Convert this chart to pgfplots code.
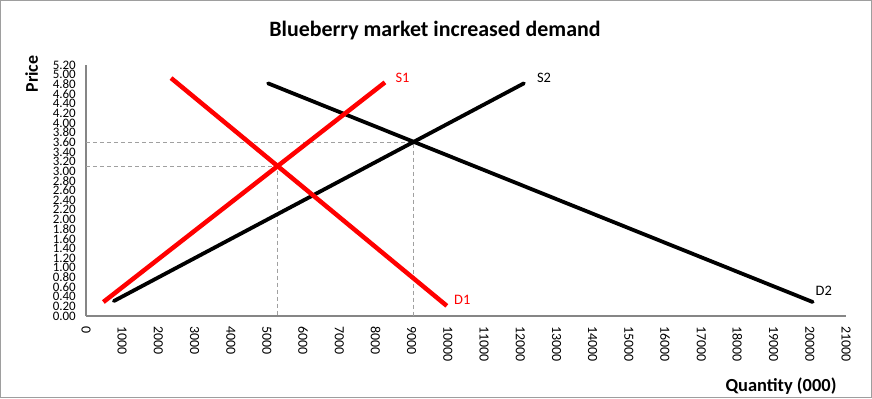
\documentclass[border=0pt]{standalone}
\usepackage{pgfplots}
\pgfplotsset{compat=1.18}
\usepackage{fontspec}
\setmainfont{Carlito}
\definecolor{axgray}{RGB}{134,134,134}
\definecolor{dashgray}{RGB}{160,160,160}
\definecolor{myred}{RGB}{255,0,0}
\begin{document}
\begin{tikzpicture}[x=1bp,y=1bp]
\useasboundingbox (-86,-82) rectangle (786,316);
\draw[line width=1.2bp, color=axgray!80] (-85.4,-81.4) rectangle (785.4,315.4);
\begin{axis}[
  at={(0,0)}, anchor=south west,
  scale only axis, width=760bp, height=251bp,
  xmin=0, xmax=21000, ymin=0, ymax=5.2,
  clip=false,
  axis x line=bottom, axis y line=left,
  axis line style={-, color=axgray, line width=1.3bp},
  major tick length=0pt,
  xtick={0,1000,...,21000},
  ytick={0,0.2,...,5.21},
  /pgf/number format/assume math mode=true,
  /pgf/number format/1000 sep={},
  yticklabel style={font=\fontsize{13}{13}\selectfont, /pgf/number format/fixed, /pgf/number format/fixed zerofill, /pgf/number format/precision=2, inner sep=0pt, xshift=-10bp},
  xticklabel style={font=\fontsize{14}{14}\selectfont, rotate=-90, anchor=west, inner sep=0pt, xshift=10bp},
  scaled y ticks=false, scaled x ticks=false,
]
% dashed guide lines
\addplot[dashgray, line width=0.9bp, dash pattern=on 4bp off 3bp] coordinates {(0,3.1) (5300,3.1) (5300,0)};
\addplot[dashgray, line width=0.9bp, dash pattern=on 4bp off 3bp] coordinates {(0,3.6) (9050,3.6) (9050,0)};
% S2 and D2 (black)
\addplot[black, line width=3.8bp, line cap=round] coordinates {(770,0.31) (12100,4.82)};
\addplot[black, line width=3.8bp, line cap=round] coordinates {(5030,4.82) (20080,0.29)};
% S1 and D1 (red)
\addplot[myred, line width=4.5bp] coordinates {(480,0.29) (8260,4.84)};
\addplot[myred, line width=4.5bp] coordinates {(2350,4.93) (9970,0.21)};
\node[myred, font=\fontsize{14.5}{14.5}\selectfont, anchor=base, inner sep=0pt] at (axis cs:8745,4.83) {S1};
\node[black, font=\fontsize{14.5}{14.5}\selectfont, anchor=base, inner sep=0pt] at (axis cs:12656,4.83) {S2};
\node[myred, font=\fontsize{14.5}{14.5}\selectfont, anchor=base, inner sep=0pt] at (axis cs:10398,0.24) {D1};
\node[black, font=\fontsize{14.5}{14.5}\selectfont, anchor=base, inner sep=0pt] at (axis cs:20387,0.435) {D2};
\end{axis}
\node[font=\fontsize{22}{22}\selectfont\bfseries, anchor=base, inner sep=0pt] at (349,279.3) {Blueberry market increased demand};
\node[font=\fontsize{18}{18}\selectfont\bfseries, rotate=90, anchor=base, inner sep=0pt] at (-48,242) {Price};
\node[font=\fontsize{18.5}{18.5}\selectfont\bfseries, anchor=base, inner sep=0pt] at (695,-75) {Quantity (000)};
\end{tikzpicture}
\end{document}
